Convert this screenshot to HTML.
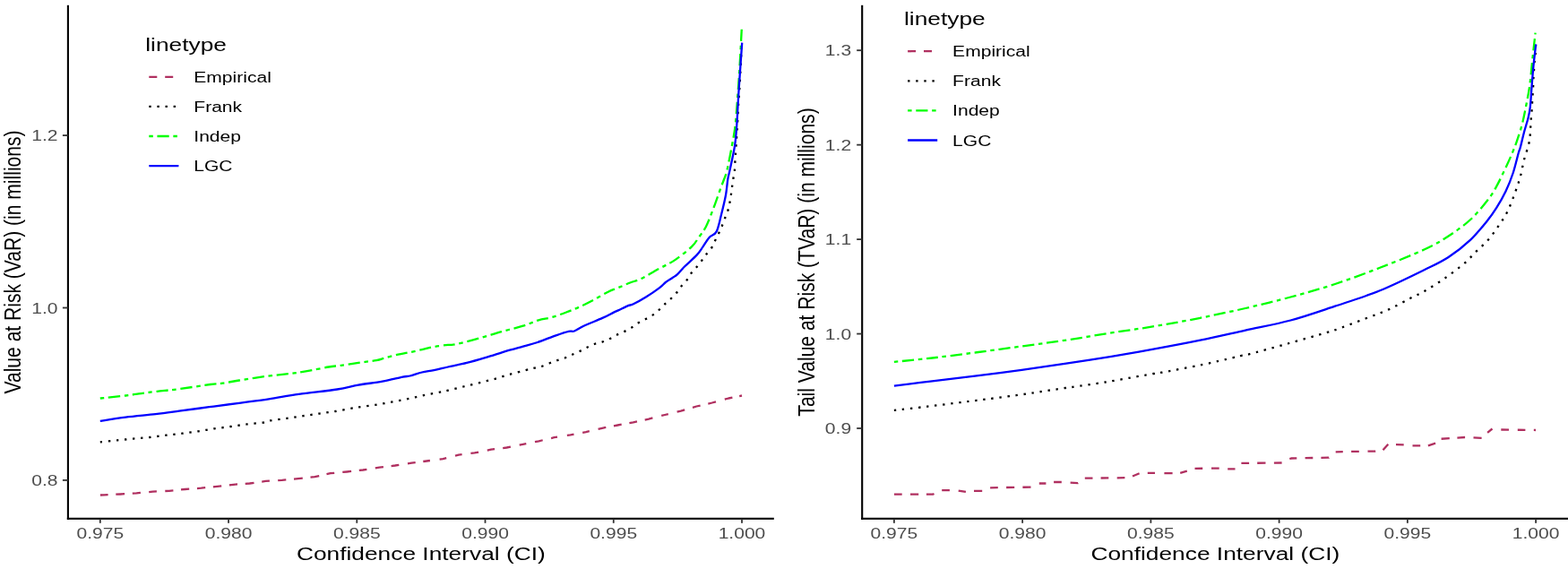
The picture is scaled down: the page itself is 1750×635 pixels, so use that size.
<!DOCTYPE html><html><head><meta charset="utf-8"><title>VaR and TVaR</title>
<style>html,body{margin:0;padding:0;background:#fff;}svg{display:block;}</style></head><body>
<svg width="1750" height="635" viewBox="0 0 1750 635" font-family="'Liberation Sans', Arial, Helvetica, sans-serif">
<rect width="1750" height="635" fill="#fff"/>
<rect x="74.85" y="5.8" width="2.1" height="574.05" fill="#000"/>
<rect x="74.85" y="577.75" width="788.95" height="2.1" fill="#000"/>
<rect x="110.90" y="578.80" width="1.8" height="5" fill="#333"/>
<rect x="254.14" y="578.80" width="1.8" height="5" fill="#333"/>
<rect x="397.38" y="578.80" width="1.8" height="5" fill="#333"/>
<rect x="540.62" y="578.80" width="1.8" height="5" fill="#333"/>
<rect x="683.86" y="578.80" width="1.8" height="5" fill="#333"/>
<rect x="827.10" y="578.80" width="1.8" height="5" fill="#333"/>
<rect x="69.90" y="535.00" width="6" height="1.8" fill="#333"/>
<rect x="69.90" y="342.60" width="6" height="1.8" fill="#333"/>
<rect x="69.90" y="150.20" width="6" height="1.8" fill="#333"/>
<rect x="961.15" y="5.8" width="2.1" height="574.05" fill="#000"/>
<rect x="961.15" y="577.75" width="789.35" height="2.1" fill="#000"/>
<rect x="997.00" y="578.80" width="1.8" height="5" fill="#333"/>
<rect x="1140.24" y="578.80" width="1.8" height="5" fill="#333"/>
<rect x="1283.48" y="578.80" width="1.8" height="5" fill="#333"/>
<rect x="1426.72" y="578.80" width="1.8" height="5" fill="#333"/>
<rect x="1569.96" y="578.80" width="1.8" height="5" fill="#333"/>
<rect x="1713.20" y="578.80" width="1.8" height="5" fill="#333"/>
<rect x="956.20" y="477.10" width="6" height="1.8" fill="#333"/>
<rect x="956.20" y="371.65" width="6" height="1.8" fill="#333"/>
<rect x="956.20" y="266.20" width="6" height="1.8" fill="#333"/>
<rect x="956.20" y="160.75" width="6" height="1.8" fill="#333"/>
<rect x="956.20" y="55.30" width="6" height="1.8" fill="#333"/>
<g transform="scale(1.25,1)">
<text x="89.44" y="600.8" font-size="16.85" fill="#4D4D4D" text-anchor="middle">0.975</text>
<text x="204.03" y="600.8" font-size="16.85" fill="#4D4D4D" text-anchor="middle">0.980</text>
<text x="318.62" y="600.8" font-size="16.85" fill="#4D4D4D" text-anchor="middle">0.985</text>
<text x="433.22" y="600.8" font-size="16.85" fill="#4D4D4D" text-anchor="middle">0.990</text>
<text x="547.81" y="600.8" font-size="16.85" fill="#4D4D4D" text-anchor="middle">0.995</text>
<text x="662.40" y="600.8" font-size="16.85" fill="#4D4D4D" text-anchor="middle">1.000</text>
<text x="51.60" y="542.00" font-size="16.85" fill="#4D4D4D" text-anchor="end">0.8</text>
<text x="51.60" y="349.60" font-size="16.85" fill="#4D4D4D" text-anchor="end">1.0</text>
<text x="51.60" y="157.20" font-size="16.85" fill="#4D4D4D" text-anchor="end">1.2</text>
<text x="375.88" y="624.9" font-size="21.06" fill="#000" text-anchor="middle">Confidence Interval (CI)</text>
<text transform="translate(18.32,292.5) rotate(-90)" font-size="21.06" fill="#000" text-anchor="middle">Value at Risk (VaR) (in millions)</text>
<text x="129.76" y="56.70" font-size="21.06" fill="#000">linetype</text>
<text x="173.04" y="91.90" font-size="16.85" fill="#000">Empirical</text>
<text x="173.04" y="125.00" font-size="16.85" fill="#000">Frank</text>
<text x="173.04" y="158.10" font-size="16.85" fill="#000">Indep</text>
<text x="173.04" y="191.20" font-size="16.85" fill="#000">LGC</text>
<text x="798.32" y="600.8" font-size="16.85" fill="#4D4D4D" text-anchor="middle">0.975</text>
<text x="912.91" y="600.8" font-size="16.85" fill="#4D4D4D" text-anchor="middle">0.980</text>
<text x="1027.50" y="600.8" font-size="16.85" fill="#4D4D4D" text-anchor="middle">0.985</text>
<text x="1142.10" y="600.8" font-size="16.85" fill="#4D4D4D" text-anchor="middle">0.990</text>
<text x="1256.69" y="600.8" font-size="16.85" fill="#4D4D4D" text-anchor="middle">0.995</text>
<text x="1371.28" y="600.8" font-size="16.85" fill="#4D4D4D" text-anchor="middle">1.000</text>
<text x="760.08" y="484.10" font-size="16.85" fill="#4D4D4D" text-anchor="end">0.9</text>
<text x="760.08" y="378.65" font-size="16.85" fill="#4D4D4D" text-anchor="end">1.0</text>
<text x="760.08" y="273.20" font-size="16.85" fill="#4D4D4D" text-anchor="end">1.1</text>
<text x="760.08" y="167.75" font-size="16.85" fill="#4D4D4D" text-anchor="end">1.2</text>
<text x="760.08" y="62.30" font-size="16.85" fill="#4D4D4D" text-anchor="end">1.3</text>
<text x="1085.08" y="624.9" font-size="21.06" fill="#000" text-anchor="middle">Confidence Interval (CI)</text>
<text transform="translate(727.12,292.5) rotate(-90)" font-size="21.06" fill="#000" text-anchor="middle">Tail Value at Risk (TVaR) (in millions)</text>
<text x="807.20" y="28.10" font-size="21.06" fill="#000">linetype</text>
<text x="850.48" y="63.30" font-size="16.85" fill="#000">Empirical</text>
<text x="850.48" y="96.40" font-size="16.85" fill="#000">Frank</text>
<text x="850.48" y="129.50" font-size="16.85" fill="#000">Indep</text>
<text x="850.48" y="162.60" font-size="16.85" fill="#000">LGC</text>
</g>
<path d="M166.30,85.80 L199.40,85.80" fill="none" stroke="#B03060" stroke-width="2.3" stroke-dasharray="9.0 8.9" stroke-linejoin="round"/>
<path d="M166.30,118.90 L199.40,118.90" fill="none" stroke="#000000" stroke-width="2.3" stroke-dasharray="2.4 6.7" stroke-linejoin="round"/>
<path d="M166.30,152.00 L199.40,152.00" fill="none" stroke="#00FF00" stroke-width="2.3" stroke-dasharray="4.5 4.67 13.2 4.68" stroke-linejoin="round"/>
<path d="M166.30,185.10 L199.40,185.10" fill="none" stroke="#0000FF" stroke-width="2.3" stroke-linejoin="round"/>
<path d="M1013.10,57.20 L1046.20,57.20" fill="none" stroke="#B03060" stroke-width="2.3" stroke-dasharray="9.0 8.9" stroke-linejoin="round"/>
<path d="M1013.10,90.30 L1046.20,90.30" fill="none" stroke="#000000" stroke-width="2.3" stroke-dasharray="2.4 6.7" stroke-linejoin="round"/>
<path d="M1013.10,123.40 L1046.20,123.40" fill="none" stroke="#00FF00" stroke-width="2.3" stroke-dasharray="4.5 4.67 13.2 4.68" stroke-linejoin="round"/>
<path d="M1013.10,156.50 L1046.20,156.50" fill="none" stroke="#0000FF" stroke-width="2.3" stroke-linejoin="round"/>
<path d="M111.90,552.50 L116.20,552.30 L120.60,552.10 M129.30,551.72 L134.20,551.50 L139.10,551.20 M147.80,550.67 L152.30,550.40 L156.90,549.95 M166.20,549.03 L170.50,548.60 L174.90,548.41 M184.30,548.00 L188.80,547.80 L193.40,547.33 M202.00,546.47 L206.60,546.00 L211.20,545.67 M220.00,545.03 L224.60,544.70 L229.20,544.21 M237.90,543.29 L242.50,542.80 L247.20,542.27 M255.90,541.30 L260.40,540.80 L265.00,540.47 M273.70,539.85 L278.60,539.50 L283.50,538.79 M292.20,537.52 L296.50,536.90 L300.90,536.63 M310.20,536.07 L314.70,535.80 L319.30,535.37 M328.00,534.56 L332.90,534.10 L337.80,533.57 M346.50,532.62 L351.30,532.10 L356.20,531.01 M364.50,529.16 L368.80,528.20 L373.20,527.79 M382.30,526.95 L387.20,526.50 L392.10,525.95 M400.80,524.98 L405.10,524.50 L409.40,523.84 M418.80,522.39 L423.30,521.70 L427.90,521.13 M436.60,520.05 L441.00,519.50 L445.30,518.84 M455.00,517.36 L459.30,516.70 L463.70,516.13 M472.30,515.01 L476.20,514.50 L479.90,514.01 M490.60,512.60 L494.40,512.10 L498.20,511.14 M508.00,508.66 L511.80,507.70 L515.60,507.21 M525.40,505.95 L529.70,505.40 L534.10,504.51 M543.80,502.55 L548.00,501.70 L552.10,501.18 M561.20,500.04 L565.50,499.50 L569.90,498.60 M579.70,496.58 L583.50,495.80 L587.30,495.05 M597.00,493.15 L601.30,492.30 L605.70,491.25 M615.10,489.01 L618.50,488.20 L622.00,487.66 M632.90,485.98 L636.70,485.40 L640.50,484.68 M650.20,482.82 L654.00,482.10 L657.80,481.19 M667.60,478.85 L672.00,477.80 L676.30,476.98 M685.00,475.32 L689.30,474.50 L693.70,473.69 M702.40,472.09 L706.70,471.30 L711.00,470.38 M719.70,468.52 L724.00,467.60 L728.40,466.48 M738.20,463.97 L742.00,463.00 L745.80,462.09 M755.60,459.73 L759.90,458.70 L764.20,457.41 M773.00,454.79 L777.30,453.50 L781.60,452.51 M790.30,450.51 L794.70,449.50 L799.00,448.33 M808.80,445.67 L813.10,444.50 L817.40,443.63 M825.20,442.06 L828.00,441.50" fill="none" stroke="#B03060" stroke-width="2.3" stroke-linejoin="round"/>
<path d="M111.80,493.40 C115.02,493.05 124.92,491.93 131.10,491.30 C137.28,490.67 142.93,490.15 148.90,489.60 C154.87,489.05 160.83,488.65 166.90,488.00 C172.97,487.35 179.23,486.42 185.30,485.70 C191.37,484.98 197.28,484.43 203.30,483.70 C209.32,482.97 215.37,482.20 221.40,481.30 C227.43,480.40 233.47,479.18 239.50,478.30 C245.53,477.42 251.58,476.82 257.60,476.00 C263.62,475.18 269.58,474.13 275.60,473.40 C281.62,472.67 289.30,472.28 293.70,471.60 C298.10,470.92 297.60,470.08 302.00,469.30 C306.40,468.52 314.07,467.75 320.10,466.90 C326.13,466.05 332.18,465.08 338.20,464.20 C344.22,463.32 350.18,462.47 356.20,461.60 C362.22,460.73 368.27,459.98 374.30,459.00 C380.33,458.02 388.00,456.48 392.40,455.70 C396.80,454.92 396.32,454.93 400.70,454.30 C405.08,453.67 412.68,452.83 418.70,451.90 C424.72,450.97 430.77,449.82 436.80,448.70 C442.83,447.58 448.87,446.45 454.90,445.20 C460.93,443.95 466.98,442.47 473.00,441.20 C479.02,439.93 486.50,438.52 491.00,437.60 C495.50,436.68 495.63,436.72 500.00,435.70 C504.37,434.68 511.42,432.90 517.20,431.50 C522.98,430.10 528.83,428.75 534.70,427.30 C540.57,425.85 546.58,424.42 552.40,422.80 C558.22,421.18 563.87,419.22 569.60,417.60 C575.33,415.98 582.30,414.27 586.80,413.10 C591.30,411.93 593.62,411.30 596.60,410.60 C599.58,409.90 601.90,409.78 604.70,408.90 C607.50,408.02 610.52,406.43 613.40,405.30 C616.28,404.17 619.12,403.08 622.00,402.10 C624.88,401.12 627.93,400.45 630.70,399.40 C633.47,398.35 635.85,397.05 638.60,395.80 C641.35,394.55 644.45,393.23 647.20,391.90 C649.95,390.57 652.38,389.12 655.10,387.80 C657.82,386.48 660.67,385.02 663.50,384.00 C666.33,382.98 669.25,382.70 672.10,381.70 C674.95,380.70 677.92,379.32 680.60,378.00 C683.28,376.68 685.53,375.12 688.20,373.80 C690.87,372.48 693.85,371.45 696.60,370.10 C699.35,368.75 702.12,367.30 704.70,365.70 C707.28,364.10 709.50,362.07 712.10,360.50 C714.70,358.93 717.65,357.73 720.30,356.30 C722.95,354.87 725.52,353.58 728.00,351.90 C730.48,350.22 732.95,348.22 735.20,346.20 C737.45,344.18 739.30,341.88 741.50,339.80 C743.70,337.72 746.18,335.82 748.40,333.70 C750.62,331.58 752.95,329.30 754.80,327.10 C756.65,324.90 757.57,322.88 759.50,320.50 C761.43,318.12 764.47,315.32 766.40,312.80 C768.33,310.28 769.32,307.77 771.10,305.40 C772.88,303.03 775.13,300.97 777.10,298.60 C779.07,296.23 781.10,293.58 782.90,291.20 C784.70,288.82 786.02,286.75 787.90,284.30 C789.78,281.85 792.50,279.12 794.20,276.50 C795.90,273.88 796.80,271.22 798.10,268.60 C799.40,265.98 800.77,263.42 802.00,260.80 C803.23,258.18 804.37,255.67 805.50,252.90 C806.63,250.13 807.68,247.08 808.80,244.20 C809.92,241.32 811.28,238.48 812.20,235.60 C813.12,232.72 813.70,229.83 814.30,226.90 C814.90,223.97 815.35,221.00 815.80,218.00 C816.25,215.00 816.57,212.03 817.00,208.90 C817.43,205.77 817.93,202.22 818.40,199.20 C818.87,196.18 819.48,193.68 819.80,190.80 C820.12,187.92 820.12,184.97 820.30,181.90 C820.48,178.83 820.62,176.87 820.90,172.40 C821.18,167.93 821.63,160.87 822.00,155.10 C822.37,149.33 822.78,143.57 823.10,137.80 C823.42,132.03 823.63,125.48 823.90,120.50 C824.17,115.52 824.40,112.48 824.70,107.90 C825.00,103.32 825.22,101.98 825.70,93.00 C826.18,84.02 827.28,60.50 827.60,54.00" fill="none" stroke="#000000" stroke-width="2.3" stroke-dasharray="2.4 6.7" stroke-linejoin="round"/>
<path d="M111.80,444.50 C116.53,444.00 132.57,442.40 140.20,441.50 C147.83,440.60 151.80,439.88 157.60,439.10 C163.40,438.32 167.93,437.63 175.00,436.80 C182.07,435.97 190.03,435.40 200.00,434.10 C209.97,432.80 226.77,430.07 234.80,429.00 C242.83,427.93 242.85,428.45 248.20,427.70 C253.55,426.95 258.60,425.82 266.90,424.50 C275.20,423.18 288.68,421.03 298.00,419.80 C307.32,418.57 317.33,417.72 322.80,417.10 C328.27,416.48 326.78,416.72 330.80,416.10 C334.82,415.48 340.88,414.50 346.90,413.40 C352.92,412.30 361.33,410.43 366.90,409.50 C372.47,408.57 374.78,408.57 380.30,407.80 C385.82,407.03 393.37,405.85 400.00,404.90 C406.63,403.95 415.18,403.00 420.10,402.10 C425.02,401.20 425.48,400.57 429.50,399.50 C433.52,398.43 439.75,396.72 444.20,395.70 C448.65,394.68 451.73,394.33 456.20,393.40 C460.67,392.47 466.32,391.17 471.00,390.10 C475.68,389.03 479.47,387.87 484.30,387.00 C489.13,386.13 495.88,385.37 500.00,384.90 C504.12,384.43 503.02,385.48 509.00,384.20 C514.98,382.92 527.42,379.55 535.90,377.20 C544.38,374.85 551.92,372.35 559.90,370.10 C567.88,367.85 576.95,365.83 583.80,363.70 C590.65,361.57 595.68,358.90 601.00,357.30 C606.32,355.70 610.53,355.57 615.70,354.10 C620.87,352.63 626.75,350.47 632.00,348.50 C637.25,346.53 642.03,344.65 647.20,342.30 C652.37,339.95 657.75,337.17 663.00,334.40 C668.25,331.63 674.20,327.92 678.70,325.70 C683.20,323.48 685.92,322.80 690.00,321.10 C694.08,319.40 698.97,317.17 703.20,315.50 C707.43,313.83 709.98,313.72 715.40,311.10 C720.82,308.48 729.43,303.25 735.70,299.80 C741.97,296.35 746.97,294.47 753.00,290.40 C759.03,286.33 767.40,279.68 771.90,275.40 C776.40,271.12 777.33,268.45 780.00,264.70 C782.67,260.95 785.28,258.02 787.90,252.90 C790.52,247.78 793.08,240.82 795.70,234.00 C798.32,227.18 801.53,217.67 803.60,212.00 C805.67,206.33 806.80,203.67 808.10,200.00 C809.40,196.33 809.95,196.17 811.40,190.00 C812.85,183.83 815.25,171.43 816.80,163.00 C818.35,154.57 819.57,149.40 820.70,139.40 C821.83,129.40 822.80,113.73 823.60,103.00 C824.40,92.27 824.80,86.85 825.50,75.00 C826.20,63.15 827.42,39.08 827.80,31.90" fill="none" stroke="#00FF00" stroke-width="2.3" stroke-dasharray="4.5 4.67 13.2 4.68" stroke-linejoin="round"/>
<path d="M111.80,469.90 C116.53,469.18 129.90,466.90 140.20,465.60 C150.50,464.30 163.63,463.25 173.60,462.10 C183.57,460.95 190.02,460.02 200.00,458.70 C209.98,457.38 222.35,455.68 233.50,454.20 C244.65,452.72 255.82,451.28 266.90,449.80 C277.98,448.32 288.90,446.95 300.00,445.30 C311.10,443.65 320.78,441.70 333.50,439.90 C346.22,438.10 365.22,436.20 376.30,434.50 C387.38,432.80 391.58,431.18 400.00,429.70 C408.42,428.22 418.55,427.12 426.80,425.60 C435.05,424.08 444.37,421.62 449.50,420.60 C454.63,419.58 454.02,420.35 457.60,419.50 C461.18,418.65 466.55,416.57 471.00,415.50 C475.45,414.43 479.47,414.10 484.30,413.10 C489.13,412.10 493.88,410.87 500.00,409.50 C506.12,408.13 513.52,406.80 521.00,404.90 C528.48,403.00 536.92,400.47 544.90,398.10 C552.88,395.73 562.42,392.62 568.90,390.70 C575.38,388.78 578.62,388.05 583.80,386.60 C588.98,385.15 593.88,384.05 600.00,382.00 C606.12,379.95 614.73,376.33 620.50,374.30 C626.27,372.27 631.18,370.60 634.60,369.80 C638.02,369.00 638.10,370.55 641.00,369.50 C643.90,368.45 646.77,365.93 652.00,363.50 C657.23,361.07 666.90,357.38 672.40,354.90 C677.90,352.42 682.07,350.02 685.00,348.60 C687.93,347.18 687.33,347.65 690.00,346.40 C692.67,345.15 698.25,342.25 701.00,341.10 C703.75,339.95 703.18,341.10 706.50,339.50 C709.82,337.90 715.90,334.62 720.90,331.50 C725.90,328.38 732.83,323.55 736.50,320.80 C740.17,318.05 740.55,316.80 742.90,315.00 C745.25,313.20 748.40,311.48 750.60,310.00 C752.80,308.52 753.87,308.18 756.10,306.10 C758.33,304.02 760.45,301.03 764.00,297.50 C767.55,293.97 773.98,288.58 777.40,284.90 C780.82,281.22 782.10,278.77 784.50,275.40 C786.90,272.03 789.27,267.53 791.80,264.70 C794.33,261.87 797.47,262.73 799.70,258.40 C801.93,254.07 803.50,245.38 805.20,238.70 C806.90,232.02 808.72,224.75 809.90,218.30 C811.08,211.85 811.53,204.72 812.30,200.00 C813.07,195.28 813.22,196.17 814.50,190.00 C815.78,183.83 818.70,171.43 820.00,163.00 C821.30,154.57 821.57,149.40 822.30,139.40 C823.03,129.40 823.42,118.28 824.40,103.00 C825.38,87.72 827.57,56.92 828.20,47.70" fill="none" stroke="#0000FF" stroke-width="2.3" stroke-linejoin="round"/>
<path d="M997.90,551.70 L1006.70,551.70 M1016.00,551.70 L1025.20,551.70 M1033.90,551.70 L1041.00,551.70 L1042.50,550.95 M1051.20,547.20 L1059.90,547.20 M1069.70,547.51 L1077.90,548.98 M1087.00,547.80 L1096.20,547.80 M1105.10,544.28 L1113.80,544.15 M1123.10,544.02 L1132.20,543.88 M1141.40,543.74 L1150.50,543.61 M1159.80,539.50 L1167.40,539.50 M1176.10,538.00 L1184.80,538.00 M1194.60,538.64 L1203.00,539.20 L1203.20,539.04 M1210.80,533.69 L1219.50,533.60 M1228.60,533.50 L1237.30,533.40 M1246.70,533.30 L1255.40,533.21 M1264.00,531.50 L1271.60,528.18 M1280.80,527.90 L1289.00,527.80 M1299.40,528.18 L1300.00,528.20 L1308.60,528.20 M1317.20,527.84 L1324.80,525.56 M1333.50,522.80 L1342.20,522.73 M1352.00,522.66 L1360.70,522.60 M1370.20,523.40 L1378.50,523.40 M1385.40,516.89 L1394.10,516.82 M1403.20,516.74 L1412.50,516.66 M1421.90,516.58 L1430.60,516.50 M1439.30,512.07 L1441.00,511.50 L1447.30,511.37 M1456.60,511.17 L1465.30,510.98 M1474.40,510.78 L1483.00,510.60 L1483.10,510.50 M1490.70,504.28 L1498.80,504.14 M1508.10,503.97 L1516.80,503.82 M1526.50,503.65 L1535.00,503.50 L1535.20,503.47 M1543.50,502.30 L1549.30,495.80 M1558.00,496.05 L1566.70,496.29 M1576.50,497.40 L1585.20,497.40 M1593.90,497.40 L1602.10,494.70 M1608.60,489.76 L1617.80,489.15 M1626.40,488.57 L1635.00,488.00 L1635.10,488.00 M1644.50,488.46 L1653.60,488.90 M1660.10,482.80 L1665.50,478.50 M1675.30,479.50 L1684.00,479.62 M1693.80,479.74 L1702.40,479.85 M1711.80,479.97 L1714.00,480.00" fill="none" stroke="#B03060" stroke-width="2.3" stroke-linejoin="round"/>
<path d="M997.90,457.90 C1004.13,457.18 1023.08,455.05 1035.30,453.60 C1047.52,452.15 1062.08,450.33 1071.20,449.20 C1080.32,448.07 1079.52,448.13 1090.00,446.80 C1100.48,445.47 1120.67,443.05 1134.10,441.20 C1147.53,439.35 1161.47,437.07 1170.60,435.70 C1179.73,434.33 1184.40,433.65 1188.90,433.00 C1193.40,432.35 1190.17,432.88 1197.60,431.80 C1205.03,430.72 1221.55,428.43 1233.50,426.50 C1245.45,424.57 1260.28,421.78 1269.30,420.20 C1278.32,418.62 1283.08,417.75 1287.60,417.00 C1292.12,416.25 1287.50,417.33 1296.40,415.70 C1305.30,414.07 1327.67,409.97 1341.00,407.20 C1354.33,404.43 1368.97,400.82 1376.40,399.10 C1383.83,397.38 1382.68,397.53 1385.60,396.90 C1388.52,396.27 1385.30,397.53 1393.90,395.30 C1402.50,393.07 1422.63,387.57 1437.20,383.50 C1451.77,379.43 1472.42,373.47 1481.30,370.90 C1490.18,368.33 1483.38,370.67 1490.50,368.10 C1497.62,365.53 1514.00,359.33 1524.00,355.50 C1534.00,351.67 1542.15,348.88 1550.50,345.10 C1558.85,341.32 1567.43,336.22 1574.10,332.80 C1580.77,329.38 1584.10,328.32 1590.50,324.60 C1596.90,320.88 1605.25,315.57 1612.50,310.50 C1619.75,305.43 1628.20,299.13 1634.00,294.20 C1639.80,289.27 1642.80,285.33 1647.30,280.90 C1651.80,276.47 1656.83,272.35 1661.00,267.60 C1665.17,262.85 1668.72,257.67 1672.30,252.40 C1675.88,247.13 1679.43,242.15 1682.50,236.00 C1685.57,229.85 1688.32,221.98 1690.70,215.50 C1693.08,209.02 1695.10,203.23 1696.80,197.10 C1698.50,190.97 1699.37,184.62 1700.90,178.70 C1702.43,172.78 1704.88,166.08 1706.00,161.60 C1707.12,157.12 1707.23,154.97 1707.60,151.80 C1707.97,148.63 1708.02,145.63 1708.20,142.60 C1708.38,139.57 1708.48,136.62 1708.70,133.60 C1708.92,130.58 1709.28,127.53 1709.50,124.50 C1709.72,121.47 1709.82,118.48 1710.00,115.40 C1710.18,112.32 1710.42,109.03 1710.60,106.00 C1710.78,102.97 1710.97,100.22 1711.10,97.20 C1711.23,94.18 1711.25,90.92 1711.40,87.90 C1711.55,84.88 1711.82,82.05 1712.00,79.10 C1712.18,76.15 1712.23,73.23 1712.50,70.20 C1712.77,67.17 1713.35,64.27 1713.60,60.90 C1713.85,57.53 1713.93,51.82 1714.00,50.00" fill="none" stroke="#000000" stroke-width="2.3" stroke-dasharray="2.4 6.7" stroke-linejoin="round"/>
<path d="M997.90,403.90 C1004.98,403.17 1025.05,401.27 1040.40,399.50 C1055.75,397.73 1073.33,395.43 1090.00,393.25 C1106.67,391.07 1123.73,388.67 1140.40,386.40 C1157.07,384.12 1173.33,382.10 1190.00,379.60 C1206.67,377.10 1223.73,374.02 1240.40,371.40 C1257.07,368.78 1273.47,366.67 1290.00,363.90 C1306.53,361.13 1322.93,358.12 1339.60,354.80 C1356.27,351.48 1373.20,347.88 1390.00,344.00 C1406.80,340.12 1423.73,336.00 1440.40,331.50 C1457.07,327.00 1473.38,322.45 1490.00,317.00 C1506.62,311.55 1523.43,305.25 1540.10,298.80 C1556.77,292.35 1577.25,284.18 1590.00,278.30 C1602.75,272.42 1608.07,269.05 1616.60,263.50 C1625.13,257.95 1633.97,251.63 1641.20,245.00 C1648.43,238.37 1655.20,229.80 1660.00,223.70 C1664.80,217.60 1666.25,215.22 1670.00,208.40 C1673.75,201.58 1679.03,190.30 1682.50,182.80 C1685.97,175.30 1688.78,168.48 1690.80,163.40 C1692.82,158.32 1693.23,156.53 1694.60,152.30 C1695.97,148.07 1697.53,143.88 1699.00,138.00 C1700.47,132.12 1702.02,124.17 1703.40,117.00 C1704.78,109.83 1706.15,103.43 1707.30,95.00 C1708.45,86.57 1709.25,76.13 1710.30,66.40 C1711.35,56.67 1713.05,41.57 1713.60,36.60" fill="none" stroke="#00FF00" stroke-width="2.3" stroke-dasharray="4.5 4.67 13.2 4.68" stroke-linejoin="round"/>
<path d="M997.90,430.60 C1004.98,429.72 1025.05,427.17 1040.40,425.30 C1055.75,423.43 1073.33,421.48 1090.00,419.40 C1106.67,417.32 1123.73,415.08 1140.40,412.80 C1157.07,410.52 1173.33,408.20 1190.00,405.70 C1206.67,403.20 1223.73,400.57 1240.40,397.80 C1257.07,395.03 1273.47,392.13 1290.00,389.10 C1306.53,386.07 1322.93,383.02 1339.60,379.60 C1356.27,376.18 1373.20,372.28 1390.00,368.60 C1406.80,364.92 1423.73,361.98 1440.40,357.50 C1457.07,353.02 1473.38,347.23 1490.00,341.70 C1506.62,336.17 1523.43,331.08 1540.10,324.30 C1556.77,317.52 1577.25,307.22 1590.00,301.00 C1602.75,294.78 1608.07,292.57 1616.60,287.00 C1625.13,281.43 1633.97,274.40 1641.20,267.60 C1648.43,260.80 1655.17,252.15 1660.00,246.20 C1664.83,240.25 1666.78,237.35 1670.20,231.90 C1673.62,226.45 1677.42,219.98 1680.50,213.50 C1683.58,207.02 1686.32,200.17 1688.70,193.00 C1691.08,185.83 1693.45,175.25 1694.80,170.50 C1696.15,165.75 1695.73,168.45 1696.80,164.50 C1697.87,160.55 1699.73,152.32 1701.20,146.80 C1702.67,141.28 1704.50,135.98 1705.60,131.40 C1706.70,126.82 1707.15,125.03 1707.80,119.30 C1708.45,113.57 1708.90,104.53 1709.50,97.00 C1710.10,89.47 1710.62,82.05 1711.40,74.10 C1712.18,66.15 1713.73,53.43 1714.20,49.30" fill="none" stroke="#0000FF" stroke-width="2.3" stroke-linejoin="round"/>
</svg></body></html>
